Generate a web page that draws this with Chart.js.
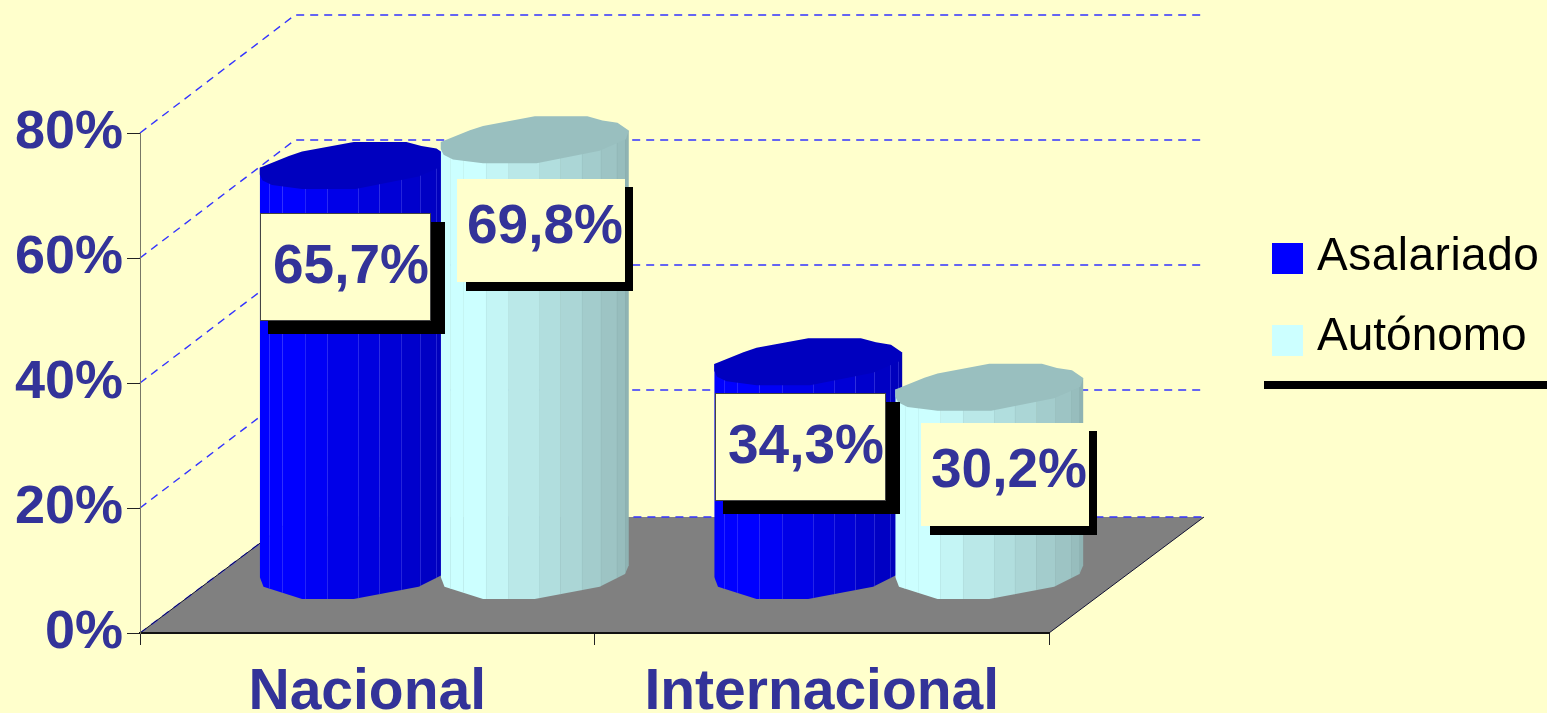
<!DOCTYPE html>
<html>
<head>
<meta charset="utf-8">
<title>Asalariado / Autónomo</title>
<script src="https://cdn.jsdelivr.net/npm/chart.js@4"></script>
<style>
  html, body { margin: 0; padding: 0; background: #FFFFCC; overflow: hidden; }
  canvas { display: block; }
</style>
</head>
<body>
<canvas id="canvas" width="1547" height="713"></canvas>
<script>
// chart values
var categories = ['Nacional', 'Internacional'];
var seriesNames = ['Asalariado', 'Autónomo'];
var asalariado = [65.7, 34.3];
var autonomo = [69.8, 30.2];
var yMin = 0;
var yMax = 80;
var yStep = 20;

// look of the fake 3D
var FONT = '"Liberation Sans", Arial, sans-serif';
var INK = '#333399';
var BG = '#FFFFCC';
var DEPTH_X = 155;
var DEPTH_Y = 118;
var FLOOR_Y = 116;
var BAR_DX = 77;      // cylinders stand half way into the floor
var BAR_DY = 57;
var BAR_OVERLAP = 3.5;
var ELLIPSE_H = 23.5;

var bodyColors = [[0, 0, 255], [204, 255, 255]];
var topColors = ['#0000BF', '#99BFBF'];

// outline of the top of a cylinder, -1..1 in both directions
var topOutline = [[-1, .1], [-.69, -.4], [-.55, -.59], [0, -1], [.56, -1], [.72, -.82], [.88, -.72], [1, -.39],
  [.97, -.02], [.69, .47], [.02, 1], [-.55, 1], [-.87, .84], [-.97, .64], [-1, .39]];
// front edge of the bottom, left to right
var bottomEdge = [[-1, .04], [-.96, .46], [-.55, .98], [0, .98], [.69, .46], [.96, -.08], [1, -.46]];
// facets of the side
var facets = [-1, -.9, -.76, -.52, -.28, .05, .27, .5, .7, .87, .96, 1];
var facetShade = [1, 1, 1, .96, .91, .87, .84, .8, .77, .74, .7];

// value boxes: offset from the cylinder top, one per bar
var boxOffsets = [[[-94, 48], [-93, 31]], [[-78, 39], [-68, 36]]];
var boxStyles = [
  { w: 171, h: 108, shadowX: 14, shadowY: 13, startX: 8, startY: 9, textX: 13, textY: 70, border: '#444444' },
  { w: 168, h: 103, shadowX: 8, shadowY: 9, startX: 9, startY: 8, textX: 10, textY: 64, border: null }
];

function floorAndWalls(chart) {
  var ctx = chart.ctx;
  var x = chart.scales.x;
  var y = chart.scales.y;
  var left = x.left, right = x.right, bottom = y.bottom;

  ctx.save();
  ctx.fillStyle = '#808080';
  ctx.beginPath();
  ctx.moveTo(left, bottom);
  ctx.lineTo(right, bottom);
  ctx.lineTo(right + DEPTH_X, bottom - FLOOR_Y);
  ctx.lineTo(left + DEPTH_X, bottom - FLOOR_Y);
  ctx.closePath();
  ctx.fill();

  // dashed grid on the side and back wall
  ctx.strokeStyle = '#3333FF';
  ctx.lineWidth = 1.4;
  ctx.setLineDash([8, 6]);
  y.ticks.forEach(function(t) {
    var py = Math.round(y.getPixelForValue(t.value));
    var backY = t.value === 0 ? py - FLOOR_Y : py - DEPTH_Y;
    ctx.beginPath();
    ctx.moveTo(left, py);
    ctx.lineTo(left + DEPTH_X, backY);
    ctx.lineTo(right + DEPTH_X, backY);
    ctx.stroke();
  });
  ctx.setLineDash([]);

  // floor side edges
  ctx.strokeStyle = '#111133';
  ctx.lineWidth = 1;
  ctx.beginPath();
  ctx.moveTo(left, bottom);
  ctx.lineTo(left + DEPTH_X, bottom - FLOOR_Y);
  ctx.moveTo(right, bottom);
  ctx.lineTo(right + DEPTH_X, bottom - FLOOR_Y);
  ctx.stroke();
  ctx.restore();
}

function drawCylinder(ctx, cx, topY, baseY, a, colorIndex) {
  var base = bodyColors[colorIndex];
  var bodyTop = topY - ELLIPSE_H * .4;

  // side of the cylinder, clipped to its outline
  ctx.save();
  ctx.beginPath();
  ctx.moveTo(cx - a, topY + ELLIPSE_H * .1);
  ctx.lineTo(cx + a, topY - ELLIPSE_H * .39);
  for (var i = bottomEdge.length - 1; i >= 0; i--) {
    ctx.lineTo(cx + bottomEdge[i][0] * a, baseY + bottomEdge[i][1] * ELLIPSE_H);
  }
  ctx.closePath();
  ctx.clip();
  for (var f = 0; f < facetShade.length; f++) {
    var s = facetShade[f];
    ctx.fillStyle = 'rgb(' + Math.round(base[0] * s) + ',' + Math.round(base[1] * s) + ',' + Math.round(base[2] * s) + ')';
    var x0 = cx + facets[f] * a;
    var x1 = cx + facets[f + 1] * a;
    ctx.fillRect(x0, bodyTop, x1 - x0 + .5, baseY - bodyTop + ELLIPSE_H + 2);
    if (f > 0) {
      ctx.fillStyle = colorIndex === 0 ? 'rgba(120,120,255,.3)' : 'rgba(120,160,160,.1)';
      ctx.fillRect(Math.round(x0), bodyTop, 1, baseY - bodyTop + ELLIPSE_H + 2);
    }
  }
  ctx.restore();

  // top
  ctx.fillStyle = topColors[colorIndex];
  ctx.beginPath();
  topOutline.forEach(function(p, i) {
    var px = cx + p[0] * a;
    var py = topY + p[1] * ELLIPSE_H;
    if (i === 0) ctx.moveTo(px, py); else ctx.lineTo(px, py);
  });
  ctx.closePath();
  ctx.fill();
}

function drawValueBox(ctx, cx, topY, value, style, offset) {
  var bx = Math.round(cx + offset[0]);
  var by = Math.round(topY + offset[1]);

  ctx.fillStyle = '#000000';
  ctx.fillRect(bx + style.startX, by + style.startY, style.w + style.shadowX - style.startX, style.h + style.shadowY - style.startY);
  ctx.fillStyle = BG;
  ctx.fillRect(bx, by, style.w, style.h);
  if (style.border) {
    ctx.strokeStyle = style.border;
    ctx.lineWidth = 1;
    ctx.strokeRect(bx + .5, by + .5, style.w - 1, style.h - 1);
  }
  ctx.fillStyle = INK;
  ctx.font = 'bold 55px ' + FONT;
  ctx.textAlign = 'left';
  ctx.textBaseline = 'alphabetic';
  ctx.fillText(value.toFixed(1).replace('.', ',') + '%', bx + style.textX, by + style.textY);
}

function drawLegend(chart) {
  var ctx = chart.ctx;
  var swatchColors = ['#0000FF', '#CCFFFF'];
  var rows = [243, 325];
  var baselines = [270, 350];
  var spacing = ['0.5px', '0px'];
  ctx.save();
  seriesNames.forEach(function(name, i) {
    ctx.fillStyle = swatchColors[i];
    ctx.fillRect(1272, rows[i], 31, 31);
    ctx.fillStyle = '#000000';
    ctx.font = '46px ' + FONT;
    ctx.letterSpacing = spacing[i];
    ctx.textAlign = 'left';
    ctx.textBaseline = 'alphabetic';
    ctx.fillText(name, 1317, baselines[i]);
  });
  ctx.fillRect(1264, 381, 283, 8);
  ctx.restore();
}

var cylinderPlugin = {
  id: 'cylinders',
  beforeDraw: floorAndWalls,
  afterDatasetsDraw: function(chart) {
    var ctx = chart.ctx;
    var y = chart.scales.y;
    var baseY = y.getPixelForValue(0) - BAR_DY;

    ctx.save();
    categories.forEach(function(c, cat) {
      chart.data.datasets.forEach(function(ds, d) {
        var bar = chart.getDatasetMeta(d).data[cat];
        var topY = bar.y - BAR_DY;
        drawCylinder(ctx, bar.x + BAR_DX, topY, baseY, bar.width / 2 + BAR_OVERLAP, d);
      });
    });
    chart.data.datasets.forEach(function(ds, d) {
      chart.getDatasetMeta(d).data.forEach(function(bar, cat) {
        drawValueBox(ctx, bar.x + BAR_DX, bar.y - BAR_DY, ds.data[cat], boxStyles[d], boxOffsets[d][cat]);
      });
    });
    ctx.restore();
    drawLegend(chart);
  }
};

new Chart(document.getElementById('canvas'), {
  type: 'bar',
  plugins: [cylinderPlugin],
  data: {
    labels: categories,
    datasets: [
      { label: seriesNames[0], data: asalariado, backgroundColor: 'transparent', categoryPercentage: .7965, barPercentage: 1 },
      { label: seriesNames[1], data: autonomo, backgroundColor: 'transparent', categoryPercentage: .7965, barPercentage: 1 }
    ]
  },
  options: {
    responsive: false,
    animation: false,
    layout: { padding: { top: 133, right: 498, left: 0, bottom: 0 } },
    plugins: { legend: { display: false }, tooltip: { enabled: false } },
    scales: {
      x: {
        afterFit: function(scale) { scale.height = 80; },
        grid: { drawOnChartArea: false, color: '#222222', tickLength: 12 },
        border: { color: '#111111', width: 2 },
        ticks: { color: INK, padding: 14, maxRotation: 0, font: { family: FONT, size: 57, weight: 'bold' } }
      },
      y: {
        min: yMin,
        max: yMax,
        afterFit: function(scale) { scale.width = 140; },
        grid: { drawOnChartArea: false, color: '#222222', tickLength: 13 },
        border: { color: '#777766', width: 1 },
        ticks: {
          stepSize: yStep,
          color: INK,
          padding: 4,
          font: { family: FONT, size: 54, weight: 'bold' },
          callback: function(v) { return v + '%'; }
        }
      }
    }
  }
});
</script>
</body>
</html>
